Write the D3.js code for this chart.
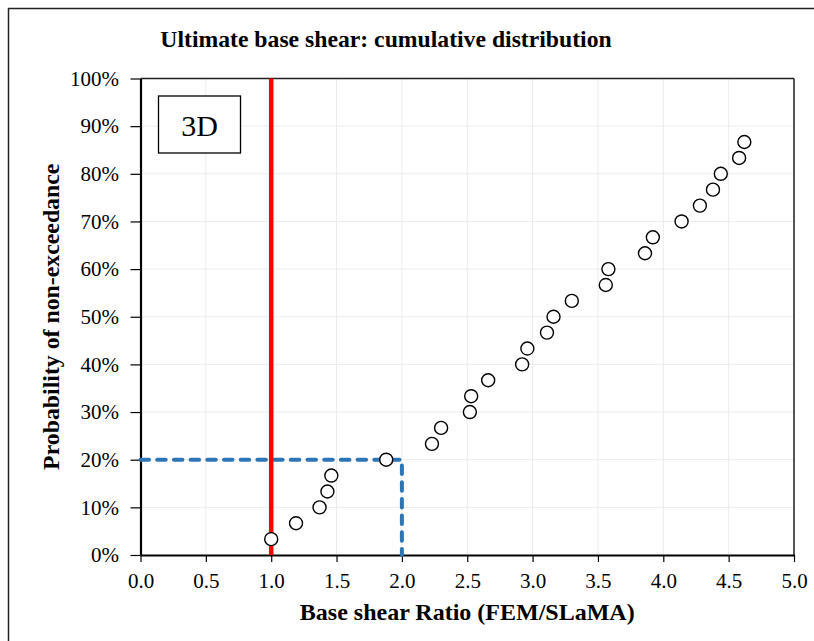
<!DOCTYPE html>
<html>
<head>
<meta charset="utf-8">
<script src="https://cdn.jsdelivr.net/npm/d3@7"></script>
<style>
  html, body { margin: 0; padding: 0; background: #fff; }
  svg { display: block; }
  text { font-family: "Liberation Serif", "Times New Roman", serif; fill: #000; }
</style>
</head>
<body>
<svg id="chart" width="814" height="641"></svg>
<script>
// ---- Data ----
const baseShearRatio = [1.00, 1.19, 1.37, 1.43, 1.46, 1.88, 2.23, 2.30, 2.52, 2.53, 2.66, 2.92, 2.96, 3.11, 3.16, 3.30, 3.56, 3.58, 3.86, 3.92, 4.14, 4.28, 4.38, 4.44, 4.58, 4.62];
const probability = [0.0333, 0.0667, 0.1000, 0.1333, 0.1667, 0.2000, 0.2333, 0.2667, 0.3000, 0.3333, 0.3667, 0.4000, 0.4333, 0.4667, 0.5000, 0.5333, 0.5667, 0.6000, 0.6333, 0.6667, 0.7000, 0.7333, 0.7667, 0.8000, 0.8333, 0.8667];
const xTicks = [0.0, 0.5, 1.0, 1.5, 2.0, 2.5, 3.0, 3.5, 4.0, 4.5, 5.0];
const yTicks = [0, 0.1, 0.2, 0.3, 0.4, 0.5, 0.6, 0.7, 0.8, 0.9, 1.0];
const refRatio = [1.0];          // red vertical reference line
const targetRatio = [2.0];       // dashed blue guide (x)
const targetProb = [0.2];        // dashed blue guide (y)
const titleText = "Ultimate base shear: cumulative distribution";
const xTitle = "Base shear Ratio (FEM/SLaMA)";
const yTitle = "Probability of non-exceedance";
const legendLabel = "3D";

// ---- Layout ----
const svg = d3.select("#chart");
const L = 140.5, R = 794, T = 78.5, B = 555;
const x = d3.scaleLinear().domain([0, 5]).range([L, R]);
const y = d3.scaleLinear().domain([0, 1]).range([B, T]);

// outer chart border (extends past right/bottom edges as in reference)
svg.append("rect").attr("x", 8.5).attr("y", 8.5).attr("width", 820).attr("height", 650)
  .attr("fill", "none").attr("stroke", "#222").attr("stroke-width", 1.5);

// title
svg.append("text").attr("x", 386).attr("y", 47).attr("text-anchor", "middle")
  .attr("font-size", 23.7).attr("font-weight", "bold").text(titleText);

// gridlines
const grid = svg.append("g");
grid.selectAll("line.v").data(xTicks).join("line")
  .attr("x1", d => x(d)).attr("x2", d => x(d)).attr("y1", T).attr("y2", B)
  .attr("stroke", "#ececec").attr("stroke-width", 1);
grid.selectAll("line.h").data(yTicks).join("line")
  .attr("x1", L).attr("x2", R).attr("y1", d => y(d)).attr("y2", d => y(d))
  .attr("stroke", "#ececec").attr("stroke-width", 1);

// plot frame top/right
svg.append("line").attr("x1", L).attr("x2", R).attr("y1", T).attr("y2", T).attr("stroke", "#222").attr("stroke-width", 1.5);
svg.append("line").attr("x1", R).attr("x2", R).attr("y1", T).attr("y2", B).attr("stroke", "#222").attr("stroke-width", 1.5);

// axes
const xAxis = d3.axisBottom(x).tickValues(xTicks).tickFormat(d3.format(".1f")).tickSizeInner(7).tickSizeOuter(0).tickPadding(11);
const yAxis = d3.axisLeft(y).tickValues(yTicks).tickFormat(d3.format(".0%")).tickSizeInner(10).tickSizeOuter(0).tickPadding(11.5);

const gx = svg.append("g").attr("transform", `translate(0,${B})`).call(xAxis);
const gy = svg.append("g").attr("transform", `translate(${L},0)`).call(yAxis);
[gx, gy].forEach(g => {
  g.select(".domain").attr("stroke", "#000").attr("stroke-width", 2.2);
  g.selectAll(".tick line").attr("stroke", "#000").attr("stroke-width", 1.2);
  g.selectAll(".tick text").attr("font-family", "Liberation Serif, Times New Roman, serif")
    .attr("font-size", 21).attr("fill", "#000");
});

// axis titles
svg.append("text").attr("x", (L + R) / 2).attr("y", 620).attr("text-anchor", "middle")
  .attr("font-size", 24).attr("font-weight", "bold").text(xTitle);
svg.append("text").attr("transform", `translate(59,${(T + B) / 2}) rotate(-90)`).attr("text-anchor", "middle")
  .attr("font-size", 23.8).attr("font-weight", "bold").text(yTitle);

// dashed blue guide
const guide = d3.line().x(d => x(d[0])).y(d => y(d[1]));
svg.append("path")
  .attr("d", guide([[0, targetProb[0]], [targetRatio[0], targetProb[0]], [targetRatio[0], 0]]))
  .attr("fill", "none").attr("stroke", "#2E75B6").attr("stroke-width", 4)
  .attr("stroke-dasharray", "8.5,8.2").attr("stroke-linecap", "round");

// red reference line
svg.selectAll("line.ref").data(refRatio).join("line")
  .attr("x1", d => x(d)).attr("x2", d => x(d)).attr("y1", T).attr("y2", B)
  .attr("stroke", "#FF0000").attr("stroke-width", 4.5);

// points
svg.append("g").selectAll("circle").data(baseShearRatio.map((v, i) => [v, probability[i]])).join("circle")
  .attr("cx", d => x(d[0])).attr("cy", d => y(d[1])).attr("r", 6.5)
  .attr("fill", "#fff").attr("stroke", "#000").attr("stroke-width", 1.4);

// legend box
svg.append("rect").attr("x", 158.5).attr("y", 96).attr("width", 82).attr("height", 57)
  .attr("fill", "#fff").attr("stroke", "#000").attr("stroke-width", 1.3);
svg.append("text").attr("x", 199.5).attr("y", 136).attr("text-anchor", "middle")
  .attr("font-size", 30).text(legendLabel);
</script>
</body>
</html>
